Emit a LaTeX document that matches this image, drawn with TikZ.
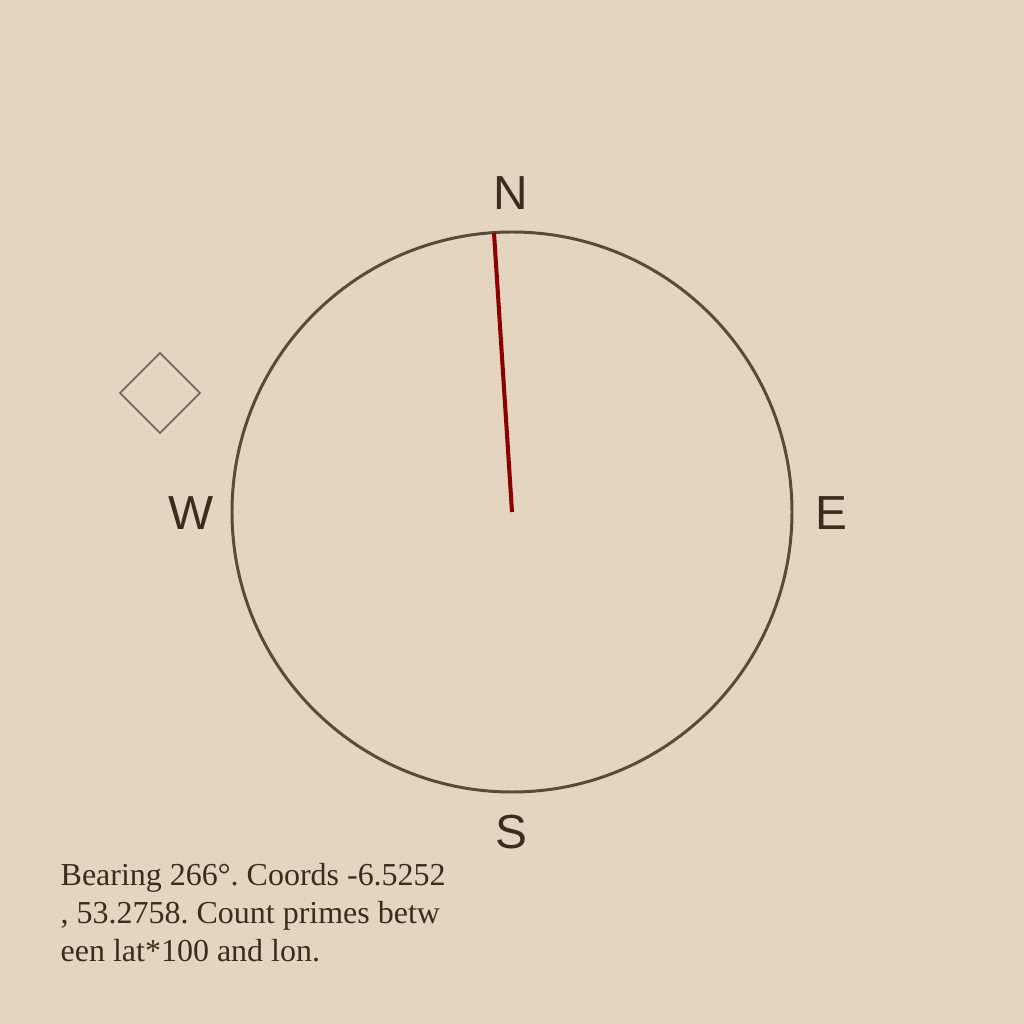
\documentclass[tikz,border=0pt]{standalone}
\usepackage{fontspec}
\setmainfont{Liberation Serif}
\newfontfamily\labelfont{Liberation Sans}
\usetikzlibrary{positioning}
\definecolor{tkPaper}{HTML}{E3D5BF}
\definecolor{tkRing}{HTML}{5A4A38}
\definecolor{tkNeedle}{HTML}{8B0000}
\definecolor{tkInk}{HTML}{3A2D1E}
\definecolor{tkMark}{HTML}{6A625A}
\frenchspacing

\begin{document}
\begin{tikzpicture}[
  cardinal/.style={font=\labelfont\fontsize{13.6}{16}\selectfont, text=tkInk, inner sep=0pt},
  ring/.style={draw=tkRing, line width=0.85pt},
  needle/.style={draw=tkNeedle, line width=1.15pt},
  marker/.style={draw=tkMark, line width=0.45pt}]
% paper
\fill[tkPaper] (0,0) rectangle (10.24,10.24);
\useasboundingbox (0,0) rectangle (10.24,10.24);
% dial
\coordinate (ctr) at (5.12,5.12);
\draw[ring] (ctr) circle (2.8);
\node[cardinal] (north) at (5.11,8.31) {N};
\node[cardinal] (south) at (5.11,1.92) {S};
\node[cardinal] (east)  at (8.31,5.11) {E};
\node[cardinal] (west)  at (1.91,5.11) {W};
% needle
\coordinate (tip) at (4.94,7.91);
\draw[needle] (ctr) -- (tip);
% side marker
\draw[marker] (1.60,6.71) -- (2.00,6.31) -- (1.60,5.91) -- (1.20,6.31) -- cycle;
% caption
\node[anchor=base west, inner sep=0pt, align=left, text=tkInk,
      font=\fontsize{9.1}{10.85}\selectfont] (caption) at (0.60,0.62)
  {Bearing 266°. Coords -6.5252\\, 53.2758. Count primes betw\\een lat*100 and lon.};
\end{tikzpicture}
\end{document}
